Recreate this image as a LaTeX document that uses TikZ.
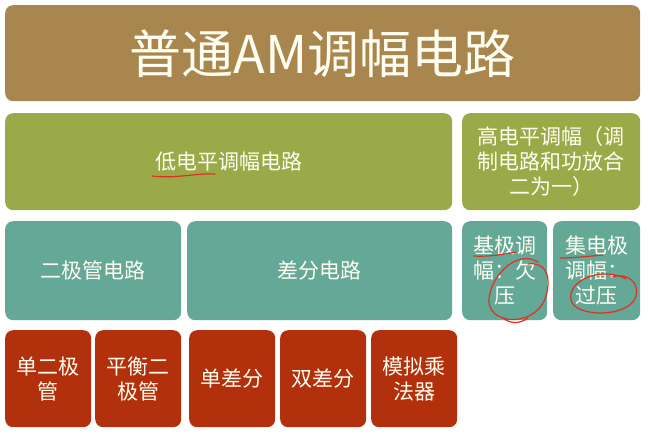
\documentclass[tikz,border=0pt]{standalone}
\usepackage{fontspec}
\setmainfont{Noto Sans CJK SC}
\definecolor{titlebrown}{HTML}{A8864E}
\definecolor{levelgreen}{HTML}{9BAA48}
\definecolor{circteal}{HTML}{64A898}
\definecolor{typered}{HTML}{B3300C}
\definecolor{penred}{HTML}{E03020}
\begin{document}
\begin{tikzpicture}[x=1pt,y=-1pt,
  blk/.style={rectangle,rounded corners=8pt,anchor=north west,inner sep=0pt,text=white!94!yellow,font=\fontsize{21}{25}\selectfont,align=center},
  titleblk/.style={blk,fill=titlebrown,font=\fontsize{52}{60}\selectfont},
  levelblk/.style={blk,fill=levelgreen},
  circblk/.style={blk,fill=circteal},
  typeblk/.style={blk,fill=typered,minimum width=86pt,minimum height=97pt},
  pen/.style={penred,line width=1.2pt,line cap=round}]

\useasboundingbox (0,0) rectangle (648,437);

\node[titleblk,minimum width=635pt,minimum height=96pt] (title) at (5,5) {普通AM调幅电路};

\node[levelblk,minimum width=447pt,minimum height=97pt] (low) at (5,113) {低电平调幅电路};
\node[levelblk,minimum width=178pt,minimum height=97pt] (high) at (462,113) {高电平调幅（调\\制电路和功放合\\二为一）};

\node[circblk,minimum width=176pt,minimum height=99pt] (diode) at (5,221) {二极管电路};
\node[circblk,minimum width=265pt,minimum height=99pt] (diff) at (187,221) {差分电路};
\node[circblk,minimum width=85pt,minimum height=99pt] (base) at (462,221) {基极调\\幅：欠\\压};
\node[circblk,minimum width=87pt,minimum height=99pt] (coll) at (553,221) {集电极\\调幅：\\过压};

\node[typeblk] (single) at (5,330) {单二极\\管};
\node[typeblk] (balance) at (95,330) {平衡二\\极管};
\node[typeblk] (sdiff) at (189,330) {单差分};
\node[typeblk] (ddiff) at (280,330) {双差分};
\node[typeblk] (mult) at (371,330) {模拟乘\\法器};

%\draw red pen marks
\draw[pen] (152,176) .. controls (175,179) and (195,173) .. (215,174);
\draw[pen] (474,256) .. controls (490,257) and (505,254) .. (516,252);
\draw[pen] (560,258) .. controls (575,258) and (590,256) .. (603,255);
\draw[pen] (538,262) .. controls (515,248) and (488,280) .. (489,302)
  .. controls (490,326) and (540,328) .. (547,292)
  .. controls (551,272) and (543,262) .. (528,264);
\draw[pen] (503,318) .. controls (510,324) and (520,324) .. (528,318);
\draw[pen] (626,279) .. controls (602,266) and (567,280) .. (571,300)
  .. controls (575,318) and (630,318) .. (636,296)
  .. controls (640,282) and (626,272) .. (612,277);

\end{tikzpicture}
\end{document}
